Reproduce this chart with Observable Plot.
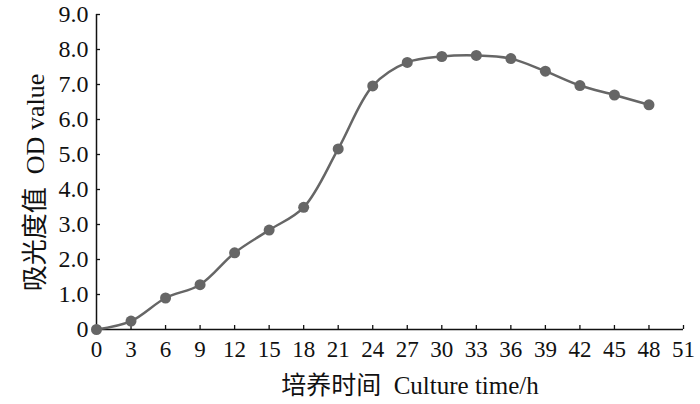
<!DOCTYPE html>
<html>
<head>
<meta charset="utf-8">
<script src="https://cdn.jsdelivr.net/npm/d3@7"></script>
<script src="https://cdn.jsdelivr.net/npm/@observablehq/plot@0.6"></script>
<style>
  html, body { margin: 0; padding: 0; background: #fff; }
  #chart svg { display: block; }
</style>
</head>
<body>
<div id="chart"></div>
<script>
// Data
const hours = [0, 3, 6, 9, 12, 15, 18, 21, 24, 27, 30, 33, 36, 39, 42, 45, 48];
const odValues = [0.0, 0.24, 0.90, 1.28, 2.19, 2.84, 3.49, 5.16, 6.96, 7.63, 7.80, 7.83, 7.74, 7.38, 6.97, 6.70, 6.42];
const xTicks = [0, 3, 6, 9, 12, 15, 18, 21, 24, 27, 30, 33, 36, 39, 42, 45, 48, 51];
const yTicks = [0, 1, 2, 3, 4, 5, 6, 7, 8, 9];
const xLabel = "培养时间  Culture time/h";
const yLabel = "吸光度值  OD value";

const data = hours.map((h, i) => ({h, od: odValues[i]}));

const fontFam = "'Liberation Serif', 'Times New Roman', 'Noto Sans CJK SC', serif";
const gray = "#666666";
const tickLenX = 4 / 35;   // data-units for ~4px tick (y scale)
const tickLenY = 4 / 11.5; // data-units for ~4px tick (x scale)

const chart = Plot.plot({
  width: 700,
  height: 404,
  marginLeft: 96,
  marginRight: 17,
  marginTop: 14,
  marginBottom: 75,
  style: {fontFamily: fontFam, fontSize: "22px", color: "#111", background: "#fff"},
  x: {domain: [0, 51], axis: null},
  y: {domain: [0, 9], axis: null},
  marks: [
    Plot.text(xTicks, {x: d => d, y: 0, dy: 11, lineAnchor: "top", textAnchor: "middle", fontSize: 23, fill: "#111", text: d => String(d)}),
    Plot.text(yTicks, {x: 0, y: d => d, dx: -8, lineAnchor: "middle", textAnchor: "end", fontSize: 24, fill: "#111", text: d => d === 0 ? "0" : d.toFixed(1)}),
    Plot.ruleY([0], {x1: 0, x2: 51, stroke: "#111", strokeWidth: 1.5}),
    Plot.ruleX([0], {y1: 0, y2: 9, stroke: "#111", strokeWidth: 1.5}),
    Plot.ruleX(xTicks, {x: d => d, y1: 0, y2: tickLenX, stroke: "#111", strokeWidth: 1.3}),
    Plot.ruleY(yTicks, {y: d => d, x1: 0, x2: tickLenY, stroke: "#111", strokeWidth: 1.3}),
    Plot.line(data, {x: "h", y: "od", curve: "catmull-rom", stroke: gray, strokeWidth: 2.5}),
    Plot.dot(data, {x: "h", y: "od", r: 5.5, fill: gray, stroke: "none"}),
    Plot.text([xLabel], {frameAnchor: "bottom", dx: 20, dy: 56, fontSize: 25, fill: "#111", textAnchor: "middle", lineAnchor: "middle"}),
    Plot.text([yLabel], {frameAnchor: "left", dx: -61, dy: 10.5, rotate: -90, fontSize: 26, fill: "#111", textAnchor: "middle", lineAnchor: "middle"})
  ]
});
document.getElementById("chart").append(chart);
</script>
</body>
</html>
